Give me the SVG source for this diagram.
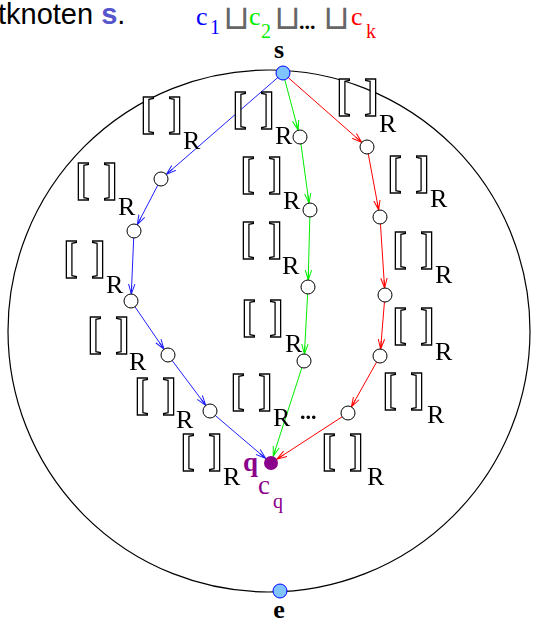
<svg xmlns="http://www.w3.org/2000/svg" width="533" height="623" viewBox="0 0 533 623">
<style>
.br{font-family:"Liberation Serif",serif;font-weight:bold;font-size:45px;fill:#fff;stroke:#000;stroke-width:1.3}
.r{font-family:"Liberation Serif",serif;font-size:26px;fill:#000}
.sr{font-family:"Liberation Serif",serif}
.cup{font-family:"DejaVu Sans",sans-serif;font-size:34px;fill:#666}
.bl{stroke:#2020ff;stroke-width:1;fill:none}
.gr{stroke:#00ee00;stroke-width:1;fill:none}
.rd{stroke:#ff0000;stroke-width:1;fill:none}
.n{fill:#fff;stroke:#000;stroke-width:1}
.t{fill:#80c4ff;stroke:#0000ff;stroke-width:1}
</style>
<defs>
<filter id="gray" x="0" y="0" width="1" height="1"><feColorMatrix type="saturate" values="0"/></filter>
<marker id="ab" markerUnits="userSpaceOnUse" markerWidth="12" markerHeight="8" refX="10" refY="4" orient="auto"><path d="M0,0.8 L10,4 L0,7.2 M10,4 L2,4" fill="none" stroke="#2020ff" stroke-width="1"/></marker>
<marker id="ag" markerUnits="userSpaceOnUse" markerWidth="12" markerHeight="8" refX="10" refY="4" orient="auto"><path d="M0,0.8 L10,4 L0,7.2 M10,4 L2,4" fill="none" stroke="#00ee00" stroke-width="1"/></marker>
<marker id="ar" markerUnits="userSpaceOnUse" markerWidth="12" markerHeight="8" refX="10" refY="4" orient="auto"><path d="M0,0.8 L10,4 L0,7.2 M10,4 L2,4" fill="none" stroke="#ff0000" stroke-width="1"/></marker>
</defs>
<rect width="533" height="623" fill="#fff"/>
<g id="header">
<text x="-2" y="24" font-family="Liberation Sans,sans-serif" font-size="29" fill="#000">tknoten <tspan font-weight="bold" fill="#5555cc">s</tspan>.</text>
<text class="sr" font-size="26" fill="#0000ff" x="196" y="25">c</text>
<text class="sr" font-size="20" fill="#0000ff" x="210" y="34">1</text>
<text class="cup" x="223" y="29">⊔</text>
<text class="sr" font-size="26" fill="#00ee00" x="249" y="25">c</text>
<text class="sr" font-size="20" fill="#00ee00" x="261" y="38">2</text>
<text class="cup" x="274" y="29">⊔</text>
<text class="sr" font-size="22" font-weight="bold" fill="#000" x="299" y="29">...</text>
<text class="cup" x="323" y="29">⊔</text>
<text class="sr" font-size="26" fill="#ff0000" x="351" y="25">c</text>
<text class="sr" font-size="20" fill="#ff0000" x="366" y="38">k</text>
</g>
<circle id="region" cx="269" cy="331" r="261" fill="none" stroke="#000" stroke-width="1.2"/>
<g id="connectors">
<line class="bl" marker-end="url(#ab)" x1="283" y1="73" x2="166.3" y2="174.4"/>
<line class="bl" marker-end="url(#ab)" x1="161" y1="179" x2="137.2" y2="224.8"/>
<line class="bl" marker-end="url(#ab)" x1="134" y1="231" x2="131.3" y2="294"/>
<line class="bl" marker-end="url(#ab)" x1="131" y1="301" x2="164" y2="349.2"/>
<line class="bl" marker-end="url(#ab)" x1="168" y1="355" x2="205.8" y2="405.4"/>
<line class="bl" marker-end="url(#ab)" x1="210" y1="411" x2="265.7" y2="458.5"/>
<line class="gr" marker-end="url(#ag)" x1="283" y1="73" x2="298.2" y2="130.2"/>
<line class="gr" marker-end="url(#ag)" x1="300" y1="137" x2="309" y2="203.1"/>
<line class="gr" marker-end="url(#ag)" x1="310" y1="210" x2="308.2" y2="280"/>
<line class="gr" marker-end="url(#ag)" x1="308" y1="287" x2="304.4" y2="354"/>
<line class="gr" marker-end="url(#ag)" x1="304" y1="361" x2="273.2" y2="456.3"/>
<line class="rd" marker-end="url(#ar)" x1="283" y1="73" x2="361.8" y2="142.4"/>
<line class="rd" marker-end="url(#ar)" x1="367" y1="147" x2="378.7" y2="210.1"/>
<line class="rd" marker-end="url(#ar)" x1="380" y1="217" x2="384.6" y2="288"/>
<line class="rd" marker-end="url(#ar)" x1="385" y1="295" x2="380.6" y2="349"/>
<line class="rd" marker-end="url(#ar)" x1="380" y1="356" x2="351.4" y2="406.9"/>
<line class="rd" marker-end="url(#ar)" x1="348" y1="413" x2="276.9" y2="459.2"/>
</g>
<g id="nodes">
<g id="s"><circle class="t" cx="283" cy="73" r="7"/><text class="sr" font-size="26" font-weight="bold" text-anchor="middle" x="279" y="58">s</text></g>
<g id="e"><circle class="t" cx="280" cy="591" r="7"/><text class="sr" font-size="26" font-weight="bold" text-anchor="middle" x="279" y="618">e</text></g>
<g id="q"><circle cx="271" cy="463" r="7" fill="#8b008b"/><text class="sr" font-size="27" font-weight="bold" fill="#8b008b" x="243" y="471">q</text><text class="sr" font-size="27" fill="#8b008b" x="258" y="494">c</text><text class="sr" font-size="20" fill="#8b008b" x="273" y="508">q</text></g>
<g id="b1"><circle class="n" cx="161" cy="179" r="7"/></g>
<g id="b2"><circle class="n" cx="134" cy="231" r="7"/></g>
<g id="b3"><circle class="n" cx="131" cy="301" r="7"/></g>
<g id="b4"><circle class="n" cx="168" cy="355" r="7"/></g>
<g id="b5"><circle class="n" cx="210" cy="411" r="7"/></g>
<g id="g1"><circle class="n" cx="300" cy="137" r="7"/></g>
<g id="g2"><circle class="n" cx="310" cy="210" r="7"/></g>
<g id="g3"><circle class="n" cx="308" cy="287" r="7"/></g>
<g id="g4"><circle class="n" cx="304" cy="361" r="7"/></g>
<g id="r1"><circle class="n" cx="367" cy="147" r="7"/></g>
<g id="r2"><circle class="n" cx="380" cy="217" r="7"/></g>
<g id="r3"><circle class="n" cx="385" cy="295" r="7"/></g>
<g id="r4"><circle class="n" cx="380" cy="356" r="7"/></g>
<g id="r5"><circle class="n" cx="348" cy="413" r="7"/></g>
</g>
<g id="labels" filter="url(#gray)">
<g id="lA"><text class="br" x="140 168" y="128">[]</text><text class="r" x="183" y="149">R</text></g>
<g id="lB"><text class="br" x="232 260" y="123">[]</text><text class="r" x="275" y="144">R</text></g>
<g id="lC"><text class="br" x="336 364" y="110">[]</text><text class="r" x="379" y="132">R</text></g>
<g id="lD"><text class="br" x="75 103" y="194">[]</text><text class="r" x="118" y="215">R</text></g>
<g id="lE"><text class="br" x="63 91" y="272">[]</text><text class="r" x="106" y="293">R</text></g>
<g id="lF"><text class="br" x="87 115" y="348">[]</text><text class="r" x="129" y="370">R</text></g>
<g id="lG"><text class="br" x="134 162" y="409">[]</text><text class="r" x="176" y="428">R</text></g>
<g id="lH"><text class="br" x="180 208" y="465">[]</text><text class="r" x="223" y="485">R</text></g>
<g id="lI"><text class="br" x="240 268" y="188">[]</text><text class="r" x="283" y="209">R</text></g>
<g id="lJ"><text class="br" x="240 268" y="253">[]</text><text class="r" x="282" y="274">R</text></g>
<g id="lK"><text class="br" x="241 269" y="331">[]</text><text class="r" x="285" y="352">R</text></g>
<g id="lL"><text class="br" x="230 258" y="405">[]</text><text class="r" x="273" y="426">R</text><text class="sr" font-size="22" font-weight="bold" x="300" y="419">...</text></g>
<g id="lM"><text class="br" x="387 415" y="187">[]</text><text class="r" x="430" y="207">R</text></g>
<g id="lN"><text class="br" x="392 420" y="263">[]</text><text class="r" x="435" y="283">R</text></g>
<g id="lO"><text class="br" x="392 420" y="339">[]</text><text class="r" x="435" y="360">R</text></g>
<g id="lP"><text class="br" x="382 410" y="404">[]</text><text class="r" x="427" y="423">R</text></g>
<g id="lQ"><text class="br" x="321 349" y="465">[]</text><text class="r" x="367" y="485">R</text></g>
</g>
</svg>
